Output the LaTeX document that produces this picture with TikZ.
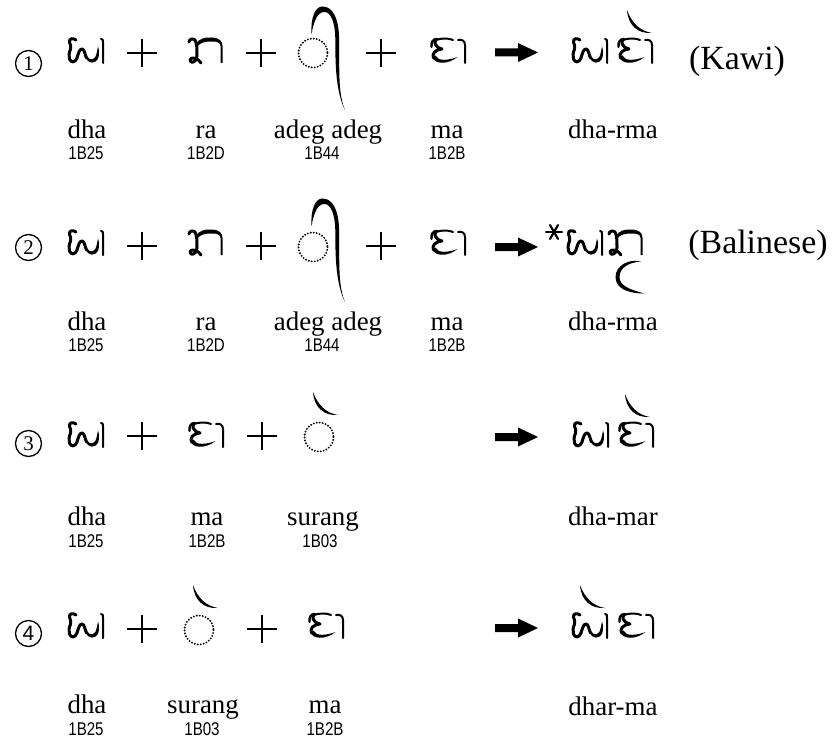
\documentclass[tikz,border=0pt]{standalone}
\usepackage{fontspec}
\setmainfont{Liberation Serif}
\newfontfamily\codefont[FakeStretch=0.82]{Liberation Sans}
\newfontfamily\sansfour{Liberation Sans}
\tikzset{
  gl/.style={line width=3bp,line cap=round,line join=round},
  thingl/.style={line width=2bp,line cap=round,line join=round},
  lbl/.style={anchor=base,inner sep=0pt,font=\fontsize{27}{30}\selectfont},
  codelbl/.style={anchor=base,inner sep=0pt,font=\codefont\fontsize{18.5}{20}\selectfont},
  bigl/.style={anchor=base,inner sep=0pt,font=\fontsize{34}{38}\selectfont},
  numc/.style={circle,draw,line width=1.3bp,minimum size=26bp,inner sep=0pt,font=\fontsize{21}{21}\selectfont},
  plusl/.style={line width=2.8bp},
  dotc/.style={line width=2.1bp,dash pattern=on 0pt off 3bp,line cap=round},
  pics/dha/.style={code={
    \draw[gl] (8,2) .. controls (5,-0.5) and (1,0.5) .. (1.5,4) .. controls (2,7) and (3.5,8) .. (2.5,11)
      .. controls (1,15) and (0.5,18) .. (1.5,21) .. controls (3,25) and (7,25) .. (9,20)
      .. controls (10.5,15) and (11.5,11) .. (14,11) .. controls (16.5,11) and (17,17) .. (18.5,20);
    \fill (17.5,19.5) .. controls (20,25.8) and (27.5,26.8) .. (30.3,20) .. controls (31.3,17) and (31.3,12) .. (30,8.5)
      .. controls (29.3,12) and (28.8,16) .. (27.3,19) .. controls (25,22.3) and (21,22) .. (19.5,18.5) -- cycle;
    \draw[thingl] (33,1) .. controls (35,1.5) .. (35,4.5) -- (35,25);
  }},
  pics/ra/.style={code={
    \draw[gl] (1,4) .. controls (1,1) and (5,0) .. (7,2) .. controls (9,5) and (9,12) .. (9,17)
      .. controls (9,22) and (6,25) .. (3,24) .. controls (1,23) and (2,20) .. (5,20) .. controls (8,20) and (11,22) .. (13,25);
    \fill (8,6) .. controls (11,0.5) and (17,-1) .. (24,-0.5) .. controls (31.5,0) and (34.5,3) .. (34.5,8) -- (34.5,25)
      -- (32.5,25) -- (32.5,8) .. controls (32.5,4.5) and (29,3.5) .. (24,3.5) .. controls (17,3.5) and (12,4.5) .. (9.5,8.5) -- cycle;
  }},
  pics/ma/.style={code={
    \draw[gl,line width=2.4bp] (7,1) .. controls (3,1) and (1,4) .. (1.5,9);
    \draw[thingl] (6,2) .. controls (11,0) and (19,0) .. (23,2);
    \draw[gl] (6,2) .. controls (4,3) and (4,9) .. (12,11) .. controls (4,12) and (2,16) .. (3.5,20);
    \fill (2.5,18.5) .. controls (3.5,26.5) and (18,27) .. (27.5,19) .. controls (18,22.5) and (8,23.5) .. (5.5,17.5) -- cycle;
    \draw[thingl] (28,2) .. controls (32,1) and (35,3) .. (35,7) -- (35,25);
  }},
  pics/adeg/.style={code={
    \fill (-1.5,-19) .. controls (-2.5,-35) and (2,-46.5) .. (9.5,-46.5) .. controls (20,-46.5) and (25.5,-34) .. (26,-17)
      .. controls (27,10) and (24,38) .. (32,57)
      .. controls (22.5,38) and (22.3,10) .. (22.3,-15) .. controls (22,-30) and (18,-40.5) .. (12,-41)
      .. controls (5,-41.5) and (1,-33) .. (-1.5,-19) -- cycle;
  }},
  pics/surang/.style={code={
    \fill (0,0) .. controls (1,15.5) and (11,24) .. (25,23) .. controls (13,21) and (4.8,13) .. (0,0) -- cycle;
  }},
  pics/dotcirc/.style={code={\draw[dotc] (0,0) circle[radius=14.5];}},
  pics/plussign/.style={code={\draw[plusl] (-15,0) -- (15,0) (0,-14) -- (0,14);}},
  pics/arr/.style={code={\fill (0,-4) -- (23,-4) -- (23,-9.5) -- (43,0) -- (23,9.5) -- (23,4) -- (0,4) -- cycle;}},
  pics/star/.style={code={\foreach \a in {0,60,...,300} \draw[line width=2.2bp,line cap=round] (0,0) -- (\a:8);}},
}
\begin{document}
\begin{tikzpicture}[x=1bp,y=-1bp]
\useasboundingbox (0,0) rectangle (840,742);
% ---------- row 1 ----------
\node[numc] (n1) at (28.5,63.5) {1};
\pic at (68,38) {dha};
\pic at (142,53) {plussign};
\pic at (188,38) {ra};
\pic at (261,53) {plussign};
\pic at (313,53) {dotcirc};
\pic at (313,53) {adeg};
\pic at (381,53) {plussign};
\pic at (430,38) {ma};
\pic at (495,52.5) {arr};
\pic at (572,38) {dha};
\pic at (617,38) {ma};
\pic at (627,10) {surang};
\node[bigl] (kawi) at (737,70) {(Kawi)};
\node[lbl] (l11) at (87,138) {dha};
\node[lbl] (l12) at (206,138) {ra};
\node[lbl] (l13) at (328,138) {adeg adeg};
\node[lbl] (l14) at (447,138) {ma};
\node[lbl] (l15) at (613,138) {dha-rma};
\node[codelbl] (c11) at (86,159) {1B25};
\node[codelbl] (c12) at (206,159) {1B2D};
\node[codelbl] (c13) at (322,159) {1B44};
\node[codelbl] (c14) at (447,159) {1B2B};
% ---------- row 2 ----------
\node[numc] (n2) at (28.5,247.5) {2};
\pic at (68,230) {dha};
\pic at (142,246) {plussign};
\pic at (188,230) {ra};
\pic at (261,246) {plussign};
\pic at (313,247) {dotcirc};
\pic at (313,245) {adeg};
\pic at (381,246) {plussign};
\pic at (430,230) {ma};
\pic at (495,247) {arr};
\pic at (554,232) {star};
\pic at (567,230) {dha};
\pic at (608,230) {ra};
\fill (641,261.5) .. controls (628,258.5) and (615.5,266) .. (615.5,277) .. controls (615.5,288.5) and (628,293.5) .. (644.5,293.5)
  .. controls (630,289.5) and (619.5,286) .. (619.5,277) .. controls (619.5,268) and (628,262.5) .. (641,261.5) -- cycle;
\node[bigl] (bali) at (758,253) {(Balinese)};
\node[lbl] (l21) at (87,330) {dha};
\node[lbl] (l22) at (206,330) {ra};
\node[lbl] (l23) at (328,330) {adeg adeg};
\node[lbl] (l24) at (447,330) {ma};
\node[lbl] (l25) at (613,330) {dha-rma};
\node[codelbl] (c21) at (86,351) {1B25};
\node[codelbl] (c22) at (206,351) {1B2D};
\node[codelbl] (c23) at (322,351) {1B44};
\node[codelbl] (c24) at (447,351) {1B2B};
% ---------- row 3 ----------
\node[numc] (n3) at (28.5,443.5) {3};
\pic at (68,422) {dha};
\pic at (142,436) {plussign};
\pic at (188,422) {ma};
\pic at (262,436) {plussign};
\pic at (319,437) {dotcirc};
\pic at (313,392) {surang};
\pic at (495,437) {arr};
\pic at (573,422) {dha};
\pic at (618,422) {ma};
\pic at (625,394) {surang};
\node[lbl] (l31) at (87,525) {dha};
\node[lbl] (l32) at (207,525) {ma};
\node[lbl] (l33) at (323,525) {surang};
\node[lbl] (l35) at (613,525) {dha-mar};
\node[codelbl] (c31) at (86,547) {1B25};
\node[codelbl] (c32) at (207,547) {1B2B};
\node[codelbl] (c33) at (320,547) {1B03};
% ---------- row 4 ----------
\node[numc] (n4) at (28.5,633.5) {\sansfour 4};
\pic at (68,613) {dha};
\pic at (142,629) {plussign};
\pic at (199,630) {dotcirc};
\pic at (193,585) {surang};
\pic at (262,629) {plussign};
\pic at (308,613) {ma};
\pic at (495,628) {arr};
\pic at (572,613) {dha};
\pic at (618,613) {ma};
\pic at (580,585) {surang};
\node[lbl] (l41) at (87,713) {dha};
\node[lbl] (l42) at (203,713) {surang};
\node[lbl] (l43) at (325,713) {ma};
\node[lbl] (l45) at (613,715) {dhar-ma};
\node[codelbl] (c41) at (86,735) {1B25};
\node[codelbl] (c42) at (202,735) {1B03};
\node[codelbl] (c43) at (325,735) {1B2B};
\end{tikzpicture}
\end{document}
